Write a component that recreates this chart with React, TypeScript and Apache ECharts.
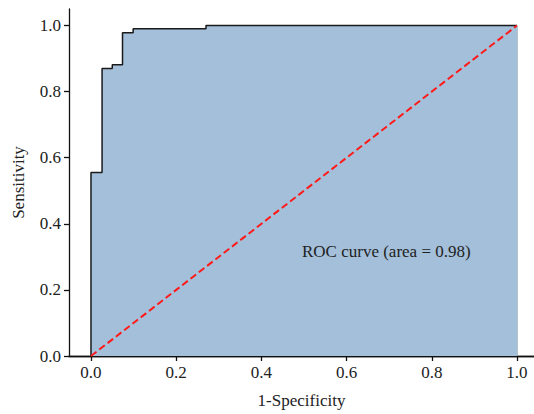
import React, { useEffect, useRef } from "react";
import * as echarts from "echarts";

const fpr = [0, 0, 0.026, 0.026, 0.05, 0.05, 0.074, 0.074, 0.099, 0.099, 0.27, 0.27, 1.0];
const tpr = [0, 0.555, 0.555, 0.87, 0.87, 0.881, 0.881, 0.978, 0.978, 0.99, 0.99, 1.0, 1.0];
const chanceLine = [[0, 0], [1, 1]];
const tickValues = [0, 0.2, 0.4, 0.6, 0.8, 1.0];
const aucLabel = "ROC curve (area = 0.98)";
const xName = "1-Specificity";
const yName = "Sensitivity";

const FONT = "'Liberation Serif', 'Times New Roman', serif";

export default function App() {
  const ref = useRef<HTMLDivElement>(null);
  useEffect(() => {
    if (!ref.current) return;
    const chart = echarts.init(ref.current, undefined, { renderer: "svg" });
    const rocData = fpr.map((x, i) => [x, tpr[i]]);
    const lineCol = { color: "#111", width: 1.3 };
    const axisCommon = {
      axisLine: { show: true, onZero: false, lineStyle: lineCol },
      axisTick: {
        show: true,
        inside: false,
        length: 5,
        customValues: tickValues,
        lineStyle: lineCol,
      },
      axisLabel: {
        customValues: tickValues,
        color: "#222",
        fontFamily: FONT,
        fontSize: 17,
        margin: 8,
        formatter: (v: number) => v.toFixed(1),
      },
      splitLine: { show: false },
      nameTextStyle: { fontFamily: FONT, fontSize: 17, color: "#222" },
      nameLocation: "middle" as const,
    };
    chart.setOption({
      animation: false,
      backgroundColor: "#fff",
      grid: {
        left: 69,
        right: 0,
        top: 9,
        bottom: 57,
        show: false,
      },
      xAxis: [
        {
          type: "value",
          min: -0.0516,
          max: 1.04,
          name: xName,
          nameGap: 36,
          ...axisCommon,
        },
        {
          type: "value",
          position: "top",
          min: -0.0516,
          max: 1.04,
          axisLine: { show: true, lineStyle: lineCol },
          axisTick: { show: false },
          axisLabel: { show: false },
          splitLine: { show: false },
        },
      ],
      yAxis: {
        type: "value",
        min: 0,
        max: 1.05,
        name: yName,
        nameGap: 42,
        nameRotate: 90,
        ...axisCommon,
      },
      series: [
        {
          type: "line",
          data: rocData,
          showSymbol: false,
          symbol: "none",
          lineStyle: { color: "#1a1a1a", width: 1.5 },
          areaStyle: { color: "#a3bfd9", opacity: 1, origin: "start" },
          z: 2,
        },
        {
          type: "line",
          data: [[fpr[fpr.length - 1], 0], [fpr[fpr.length - 1], tpr[tpr.length - 1]]],
          showSymbol: false,
          symbol: "none",
          lineStyle: { color: "#7f95ab", width: 1.2 },
          z: 1,
        },
        {
          type: "line",
          data: chanceLine,
          showSymbol: false,
          symbol: "none",
          lineStyle: { color: "#ff1a1a", width: 2, type: [7, 3.5] },
          z: 3,
        },
      ],
      graphic: [
        {
          type: "text",
          left: 302,
          top: 243,
          style: {
            text: aucLabel,
            fontFamily: FONT,
            fontSize: 17,
            fill: "#222",
          },
          z: 10,
        },
      ],
    });
    return () => chart.dispose();
  }, []);
  return <div ref={ref} style={{ width: 534, height: 414, position: "absolute", left: 0, top: 0 }} />;
}
